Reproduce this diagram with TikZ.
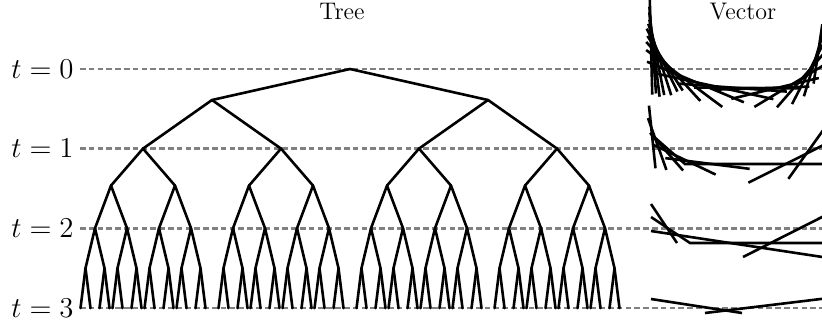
\documentclass[tikz,border=0pt]{standalone}
\usepackage{tikz}

\begin{document}
\begin{tikzpicture}[x=0.5pt, y=-0.5pt,
    guide/.style={gray, line width=1.4pt, dash pattern=on 2.8pt off 1.6pt},
    timelabel/.style={anchor=east, inner sep=3pt, font=\Large},
    title/.style={anchor=base, font=\large},
    cut/.style={line width=1.3pt},
    edge from parent/.style={draw, line width=1.3pt, line cap=round},
    level 1/.style={sibling distance=138pt, level distance=15.5pt},
    level 2/.style={sibling distance=69pt, level distance=24.3pt},
    level 3/.style={sibling distance=32pt, level distance=18.5pt},
    level 4/.style={sibling distance=16pt, level distance=21.3pt},
    level 5/.style={sibling distance=9.5pt, level distance=20pt},
    level 6/.style={sibling distance=5pt, level distance=20pt}
]
\useasboundingbox (0,0) rectangle (822,326);

\node[title] (tree) at (342,19.5) {Tree};
\node[title] (vector) at (743,19.5) {Vector};

% time levels
\foreach \t in {0,...,3} {
    \node[timelabel] (lab\t) at (80,69+79.67*\t) {$t=\t$};
    \coordinate (end\t) at (829,69+79.67*\t);
    \draw[guide] (lab\t) -- (end\t);
}

% tree
\node[coordinate] (root) at (350,69) {}
    child foreach \a in {1,2} {coordinate
        child foreach \b in {1,2} {coordinate
            child foreach \c in {1,2} {coordinate
                child foreach \d in {1,2} {coordinate
                    child foreach \e in {1,2} {coordinate
                        child foreach \f in {1,2} {coordinate}}}}}};

% vector, t=0
\def\vcx{760}\def\vcy{0}\def\vaL{110}\def\vaR{62}\def\vb{88}
\foreach \u/\la/\lb in {-0.999/40/82, -0.995/15/72, -0.99/15/70, -0.98/15/62,
        -0.96/20/55, -0.93/25/45, -0.9/25/40, -0.85/30/50, -0.78/35/60,
        -0.65/45/60, -0.5/50/70, -0.3/50/60, -0.1/55/50, 0.15/55/40,
        0.4/55/35, 0.6/50/30, 0.75/45/30, 0.85/45/25, 0.92/45/25, 0.97/45/15} {
    \pgfmathsetmacro{\va}{(\u)<0 ? \vaL : \vaR}
    \pgfmathsetmacro{\vpx}{\vcx+\va*(\u)}
    \pgfmathsetmacro{\vw}{1-abs(\u)^3}
    \pgfmathsetmacro{\vpy}{\vcy+\vb*\vw^(1/3)}
    \pgfmathsetmacro{\vang}{atan(-(\vb/\va)*(\u)*abs(\u)/\vw^(2/3))}
    \draw[cut] ([shift={(\vang+180:\la)}]\vpx,\vpy) -- ([shift={(\vang:\lb)}]\vpx,\vpy);
}

% vector, t=1
\def\vcx{750}\def\vcy{106}\def\vaL{100}\def\vaR{70}\def\vb{59}
\foreach \u/\la/\lb in {-0.995/15/48, -0.97/15/40, -0.9/15/35, -0.75/25/45,
        -0.45/40/45, 0.68/55/30, 0.88/40/35} {
    \pgfmathsetmacro{\va}{(\u)<0 ? \vaL : \vaR}
    \pgfmathsetmacro{\vpx}{\vcx+\va*(\u)}
    \pgfmathsetmacro{\vw}{1-abs(\u)^3}
    \pgfmathsetmacro{\vpy}{\vcy+\vb*\vw^(1/3)}
    \pgfmathsetmacro{\vang}{atan(-(\vb/\va)*(\u)*abs(\u)/\vw^(2/3))}
    \draw[cut] ([shift={(\vang+180:\la)}]\vpx,\vpy) -- ([shift={(\vang:\lb)}]\vpx,\vpy);
}
\draw[cut] (653,136) -- (685,164) -- (829,164);

% vector, t=2
\draw[cut] (651,204) -- (677,243);
\draw[cut] (651,217) -- (690,243) -- (829,243);
\draw[cut] (651,231) -- (829,258);
\draw[cut] (743,257) -- (829,213.5);

% vector, t=3
\draw[cut] (651,299) -- (742,313);
\draw[cut] (705,313) -- (829,298);
\end{tikzpicture}
\end{document}
